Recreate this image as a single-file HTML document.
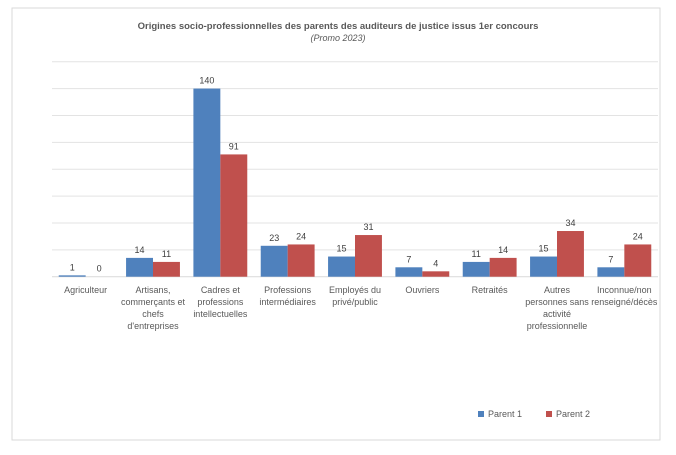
<!DOCTYPE html>
<html><head><meta charset="utf-8"><style>
body{margin:0;background:#fff;font-family:"Liberation Sans",sans-serif;}
svg text{font-family:"Liberation Sans",sans-serif;}
</style></head><body>
<svg width="676" height="450">
<rect x="12" y="8" width="648" height="432" fill="#fff" stroke="#d9d9d9"/>
<text x="338" y="29" text-anchor="middle" font-size="9.5" font-weight="bold" fill="#595959">Origines socio-professionnelles des parents des auditeurs de justice issus 1er concours</text>
<text x="338" y="41" text-anchor="middle" font-size="9" font-style="italic" fill="#595959">(Promo 2023)</text>
<g id="grid"></g><g id="bars"></g><g id="labels"></g>
<g>
<rect x="478" y="411" width="6" height="6" fill="#4f81bd"/>
<text x="488" y="417" font-size="9" fill="#595959">Parent 1</text>
<rect x="546" y="411" width="6" height="6" fill="#c0504d"/>
<text x="556" y="417" font-size="9" fill="#595959">Parent 2</text>
</g>
</svg>
<script>
const categories=[["Agriculteur"],["Artisans,","commerçants et","chefs","d'entreprises"],["Cadres et","professions","intellectuelles"],["Professions","intermédiaires"],["Employés du","privé/public"],["Ouvriers"],["Retraités"],["Autres","personnes sans","activité","professionnelle"],["Inconnue/non","renseigné/décès"]];
const parent1=[1,14,140,23,15,7,11,15,7];
const parent2=[0,11,91,24,31,4,14,34,24];
const yTicks=[0,20,40,60,80,100,120,140,160];
const NS="http://www.w3.org/2000/svg";
const L=52,R=658,T=61.7,B=276.7,yMax=160;
const y=v=>B-(v/yMax)*(B-T);
const cw=(R-L)/categories.length;
const x=i=>L+i*cw;
function mk(t,a,p){const e=document.createElementNS(NS,t);for(const k in a)e.setAttribute(k,a[k]);p.appendChild(e);return e;}
const grid=document.getElementById('grid'),bars=document.getElementById('bars'),labs=document.getElementById('labels');
yTicks.forEach(v=>{const l=mk('line',{x1:L,x2:R,y1:y(v),y2:y(v),stroke:v===0?'#d9d9d9':'#e3e3e3','stroke-width':1},grid);

});
const bw=cw*0.4;
categories.forEach((c,i)=>{
 [[parent1,'#4f81bd',0],[parent2,'#c0504d',1]].forEach(([s,col,k])=>{
  const bx=x(i)+cw*0.1+k*bw;
  const r=mk('rect',{x:bx,y:y(s[i]),width:bw,height:B-y(s[i]),fill:col},bars);
  
  
  const t=mk('text',{x:bx+bw/2,y:y(s[i])-5,'text-anchor':'middle','font-size':9,fill:'#404040'},labs);
  t.textContent=s[i];
  
  
 });
 const t=mk('text',{x:x(i)+cw/2,y:293,'text-anchor':'middle','font-size':9,fill:'#595959'},labs);
 
 
 c.forEach((ln,j)=>{const s=mk('tspan',{x:x(i)+cw/2,dy:j?12:0},t);s.textContent=ln;});
});
</script>
</body></html>
